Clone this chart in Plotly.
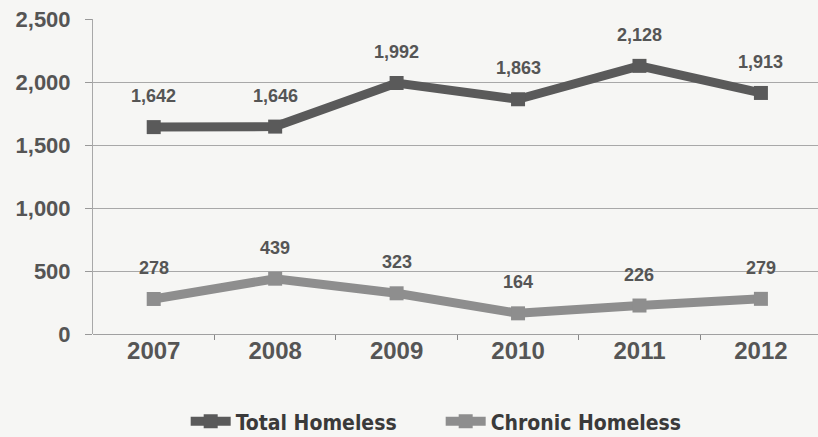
import plotly.graph_objects as go

years = ["2007", "2008", "2009", "2010", "2011", "2012"]
total_homeless = [1642, 1646, 1992, 1863, 2128, 1913]
chronic_homeless = [278, 439, 323, 164, 226, 279]
y_ticks = [0, 500, 1000, 1500, 2000, 2500]

x_pos = list(range(len(years)))
bg = "#f6f6f4"
label_font = dict(family="Liberation Sans", size=18, color="#555555", weight="bold")

fig = go.Figure()
series = [
    ("Total Homeless", total_homeless, "#5a5a5a"),
    ("Chronic Homeless", chronic_homeless, "#8e8e8e"),
]
for name, vals, color in series:
    fig.add_trace(go.Scatter(
        x=x_pos, y=vals, name=name, mode="lines+markers",
        line=dict(color=color, width=9),
        marker=dict(symbol="square", size=14, color=color),
    ))
    for xi, v in zip(x_pos, vals):
        fig.add_annotation(x=xi, y=v, text=f"{v:,}", showarrow=False,
                           yshift=31, font=label_font)

fig.update_layout(
    width=818, height=437,
    margin=dict(l=93, r=0, t=19, b=103, autoexpand=False),
    paper_bgcolor=bg, plot_bgcolor=bg,
    showlegend=True,
    legend=dict(orientation="h", xref="container", x=0.227, xanchor="left",
                yref="container", y=0.035, yanchor="middle",
                font=dict(family="DejaVu Sans Condensed", size=21, color="#3a3a3a",
                          weight="bold"),
                entrywidth=200, itemwidth=40, bgcolor="rgba(0,0,0,0)"),
    xaxis=dict(
        range=[-0.5, 5.47], tickmode="array", tickvals=x_pos, ticktext=years,
        ticks="", showgrid=False, zeroline=False,
        showline=False,
        tickfont=dict(family="Liberation Sans", size=24, color="#555555", weight="bold"),
        minor=dict(tickmode="array", tickvals=[0.5, 1.5, 2.5, 3.5, 4.5],
                   ticks="outside", ticklen=5, tickcolor="#888888", showgrid=False),
    ),
    yaxis=dict(
        range=[0, 2500], tickmode="array", tickvals=y_ticks,
        ticktext=[f"{v:,}" for v in y_ticks],
        ticks="outside", ticklen=7, tickcolor="#999999",
        showgrid=True, gridcolor="#a8a8a8", gridwidth=1,
        showline=True, linecolor="#a8a8a8", linewidth=1,
        zeroline=True, zerolinecolor="#a0a0a0", zerolinewidth=1,
        tickfont=dict(family="Liberation Sans", size=22, color="#555555", weight="bold"),
        ticklabelstandoff=10,
    ),
)

fig.write_html("out.html")
